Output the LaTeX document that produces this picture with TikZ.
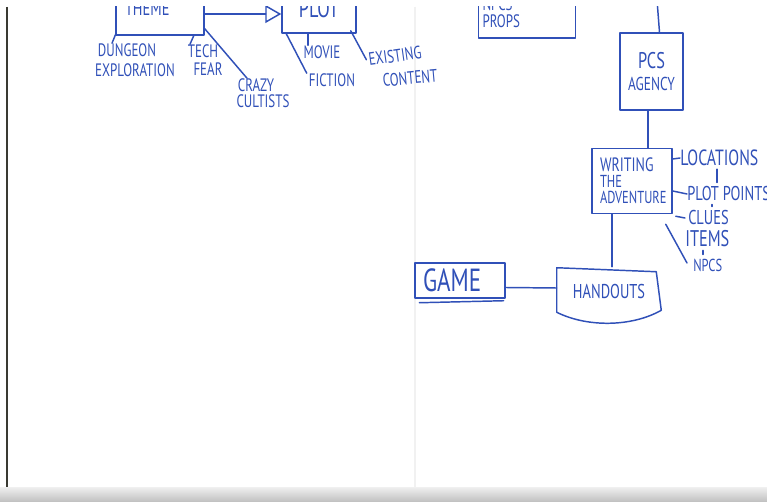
\documentclass[tikz,border=0pt]{standalone}
\usepackage{fontspec}
\usetikzlibrary{arrows.meta, positioning, calc}
\newfontfamily\handfont[FakeStretch=0.72]{PT Sans}
\definecolor{ink}{HTML}{3050B8}
\definecolor{paperedge}{HTML}{3A3A32}
\definecolor{foldline}{HTML}{F1F1F1}
\newdimen\pxu \pxu=0.75pt
\newcommand\leaffont{\handfont\fontsize{13.5}{15}\selectfont}
\newcommand\boxfont{\handfont\fontsize{15}{12}\selectfont}

\begin{document}
\begin{tikzpicture}[
    x=0.75pt, y=-0.75pt,
    pen/.style={draw=ink, line width=1.1pt, line cap=round, line join=round},
    sbox/.style={pen, font=\boxfont, text=ink, inner sep=3\pxu},
    leaf/.style={font=\leaffont, text=ink, inner sep=0pt},
    tick/.style={pen, shorten <=3\pxu, shorten >=4\pxu},
    arrstyle/.style={pen, -{Triangle[open, length=12pt, width=13.5pt]}},
]

% === paper ===
\useasboundingbox (0,0) rectangle (767,502);
\fill[white] (0,0) rectangle (767,502);
\draw[foldline, line width=1.5pt] (415,7) -- (415,487);
\draw[paperedge, line width=1.2pt] (7,7) -- (7,487);
\shade[top color=gray!12, bottom color=gray!50] (0,487) rectangle (767,502);

\begin{scope}
\clip (8,7) rectangle (767,487);

% === Theme -> Plot (cut off at top) ===
\node[sbox, minimum width=88\pxu, minimum height=52\pxu, text width=70\pxu, align=left] (theme) at (160,9) {THEME};
\node[sbox, minimum width=74\pxu, minimum height=48\pxu, font=\handfont\fontsize{19}{19}\selectfont] (plot) at (319,9) {PLOT};
\draw[arrstyle] ([yshift=-5\pxu]theme.east) -- ([yshift=-5\pxu]plot.west);

% theme leaves
\node[leaf] (dungeon) at (127,50) {DUNGEON};
\node[leaf, below=7\pxu of dungeon, xshift=8\pxu] (exploration) {EXPLORATION};
\node[leaf] (tech) at (203,51) {TECH};
\node[leaf, below=5\pxu of tech, xshift=5\pxu] (fear) {FEAR};
\node[leaf] (crazy) at (256,85) {CRAZY};
\node[leaf, below=3\pxu of crazy, xshift=7\pxu] (cultists) {CULTISTS};

\draw[pen] ([xshift=1\pxu,yshift=3\pxu]theme.south west) -- ([xshift=-15\pxu]dungeon.north);
\draw[pen] ([xshift=-11\pxu]theme.south east) -- ([xshift=-13\pxu]tech.north);
\draw[pen] ([yshift=7\pxu]theme.south east) -- ([xshift=-9\pxu]crazy.north);

% plot leaves
\node[leaf] (movie) at (322,52) {MOVIE};
\node[leaf] (fiction) at (332,80) {FICTION};
\node[leaf, rotate=8] (existing) at (395,56) {EXISTING};
\node[leaf, rotate=5] (content) at (410,78) {CONTENT};

\draw[pen] ([xshift=-11\pxu]plot.south) -- ([xshift=-14\pxu]movie.north);
\draw[pen] ([xshift=5\pxu]plot.south west) -- ([xshift=-2\pxu]fiction.north west);
\draw[pen] ([xshift=-6\pxu,yshift=3\pxu]plot.south east) -- ([xshift=-2\pxu]existing.west);

% === NPCs / props ===
\node[sbox, minimum width=97\pxu, minimum height=50\pxu, text width=89\pxu, align=left,
      font=\handfont\fontsize{13.5}{12.5}\selectfont] (props) at (527,13) {NPCS\\PROPS};

% === PCs agency ===
\node[sbox, minimum width=63\pxu, minimum height=77\pxu, align=center,
      font=\handfont\fontsize{14}{16}\selectfont] (pcs) at (651.5,71.5)
      {{\fontsize{17}{16}\selectfont PCS}\\AGENCY};
\coordinate (pcstop) at (657,0);
\draw[pen] (pcstop) -- ([xshift=8\pxu]pcs.north);

% === Writing the adventure ===
\node[sbox, minimum width=80\pxu, minimum height=65\pxu, text width=64\pxu, align=left,
      font=\handfont\fontsize{13}{12}\selectfont] (writing) at (632,181)
      {{\fontsize{14.5}{12}\selectfont WRITING}\\THE\\ADVENTURE};
\draw[pen] ([xshift=-3.5\pxu]pcs.south) -- ([xshift=-3.5\pxu]pcs.south |- writing.north);

% adventure leaves
\node[leaf, anchor=west, font=\handfont\fontsize{16.5}{16}\selectfont] (locations) at (680,158) {LOCATIONS};
\node[leaf, anchor=west, font=\handfont\fontsize{15}{16}\selectfont] (plotpoints) at (687,194) {PLOT POINTS};
\node[leaf, anchor=west, font=\handfont\fontsize{15}{16}\selectfont] (clues) at (688,218) {CLUES};
\node[leaf, anchor=west, font=\handfont\fontsize{17}{17}\selectfont] (items) at (685,239) {ITEMS};
\node[leaf, anchor=west, font=\handfont\fontsize{13}{14}\selectfont] (npcs) at (693,265) {NPCS};

\draw[pen] ([yshift=22\pxu]writing.east) -- (locations.west);
\draw[pen] ([yshift=-10\pxu]writing.east) -- (plotpoints.west);
\draw[pen] ([xshift=3\pxu,yshift=-2\pxu]writing.south east) -- ([xshift=-3\pxu]clues.west);
\draw[tick] ([xshift=37\pxu]locations.south west) -- ([xshift=37\pxu]locations.south west |- plotpoints.north);
\draw[tick] ([xshift=24\pxu]clues.north west |- plotpoints.south) -- ([xshift=24\pxu]clues.north west);
\draw[tick] ([xshift=18\pxu]items.south west) -- ([xshift=18\pxu]items.south west |- npcs.north);
\draw[pen] ([xshift=-7\pxu,yshift=-10\pxu]writing.south east) -- ([xshift=-6\pxu,yshift=2\pxu]npcs.west);

% === Game -- Handouts ===
\node[sbox, minimum width=90\pxu, minimum height=35\pxu, text width=74\pxu, align=left,
      font=\handfont\fontsize{24}{24}\selectfont] (game) at (460,280.5) {GAME};
\draw[pen] ([xshift=5\pxu,yshift=-4\pxu]game.south west) -- ([xshift=-2\pxu,yshift=-2\pxu]game.south east);

\node[font=\boxfont, text=ink, minimum width=104\pxu, minimum height=48\pxu] (handouts) at (609,291) {HANDOUTS};
\draw[pen] ([yshift=-1\pxu]handouts.north west) -- ([yshift=3\pxu]handouts.south west)
    .. controls ([xshift=30\pxu,yshift=-12\pxu]handouts.south west)
    and ([xshift=-30\pxu,yshift=-12\pxu]handouts.south east) .. ([yshift=5\pxu]handouts.south east)
    -- ([xshift=-5\pxu,yshift=-5\pxu]handouts.north east) -- cycle;

\draw[pen] ([xshift=-20\pxu]writing.south) -- ([xshift=-20\pxu]writing.south |- handouts.north);
\draw[pen] ([yshift=-7\pxu]game.east) -- ([yshift=3\pxu]handouts.west);

\end{scope}
\end{tikzpicture}
\end{document}
